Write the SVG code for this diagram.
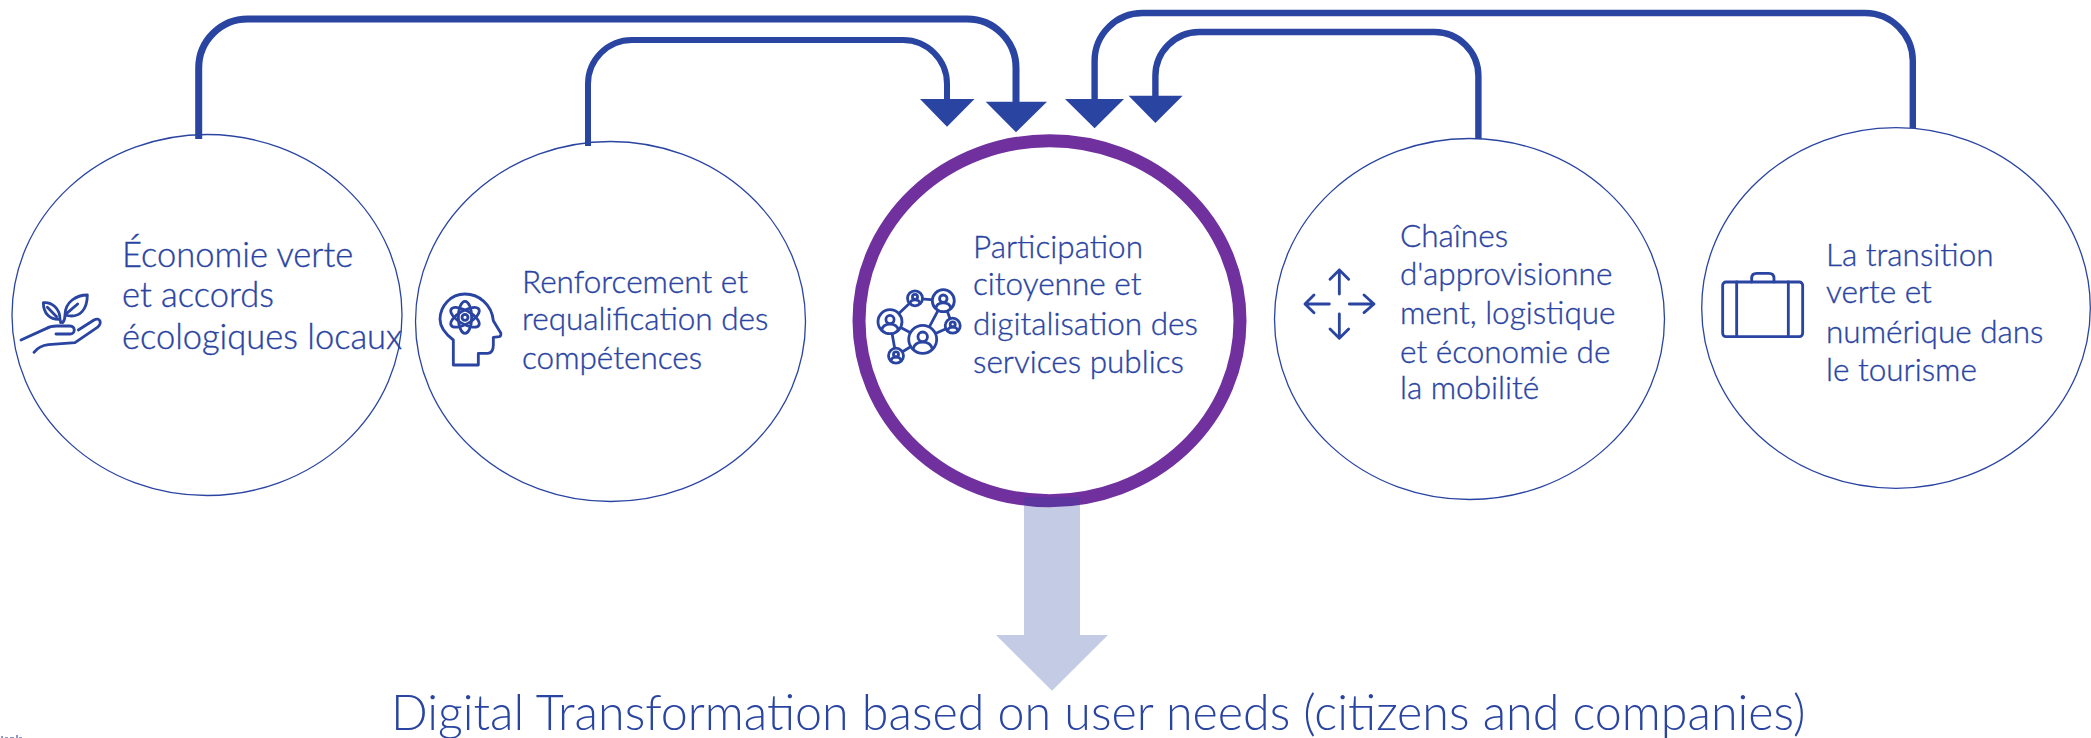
<svg xmlns="http://www.w3.org/2000/svg" width="2091" height="738" viewBox="0 0 2091 738">
<style>
.n{fill:#fff;stroke:#2a44a2;stroke-width:1.3}
.c{fill:#fff;stroke:#70309e;stroke-width:13}
.t{font-family:"Lato","Liberation Sans",sans-serif;font-size:31.5px;fill:#2a44a2;font-weight:300;stroke:#2a44a2;stroke-width:.35}
.w{fill:none;stroke:#2a44a2;stroke-linejoin:round}
.h{fill:#2a44a2}
.i{fill:none;stroke:#2a44a2;stroke-width:8.5;stroke-linecap:round;stroke-linejoin:round}
.k{fill:none;stroke:#2a44a2;stroke-width:2.8;stroke-linecap:round;stroke-linejoin:round}
.b{fill:#fff}
</style>
<defs>
<g id="person"><circle cx="0" cy="0" r="1" class="k" vector-effect="non-scaling-stroke"/><circle cx="0" cy="-.18" r=".34" class="k" vector-effect="non-scaling-stroke"/><path d="M-.68,.68C-.6,.26-.3,.2 0,.2S.6,.26.68,.68" class="k" vector-effect="non-scaling-stroke"/></g>
</defs>
<g id="node-economie">
<ellipse class="n" cx="207" cy="315" rx="195" ry="180.5"/>
<g transform="translate(10,280) scale(.3333)">
<path class="i" d="M33,180L108,146C118,140 128,138 140,138H180C197,138 197,162 180,162H138"/>
<path class="i" d="M205,150L252,120C270,110 278,130 262,142L195,188L115,194C98,196 82,204 72,217"/>
<path class="i" d="M158,128C165,120 165,112 165,105C165,65 200,45 232,45C232,85 212,118 165,105M170,100L203,72"/>
<path class="i" d="M152,128C152,124 151,122 150,118C120,120 100,100 100,68C125,65 150,85 150,118M112,82L140,110"/>
</g>
<text class="t" style="font-size:34.5px"><tspan x="122" y="267">Économie verte</tspan><tspan x="122" y="307">et accords</tspan><tspan x="122" y="349">écologiques locaux</tspan></text>
</g>
<g id="node-competences">
<ellipse class="n" cx="610.5" cy="321.5" rx="195" ry="180"/>
<g transform="translate(430,280) scale(.3333)">
<path class="i" d="M70,180V255H145V220H172C185,220 190,208 190,195V172L208,170C214,168 214,160 210,155L190,122C185,72 145,42 105,42C62,42 30,78 30,118C30,145 50,165 70,180Z"/>
<g transform="translate(105,112)"><ellipse class="i" rx="48" ry="20" transform="rotate(30)"/><ellipse class="i" rx="48" ry="20" transform="rotate(90)"/><ellipse class="i" rx="48" ry="20" transform="rotate(150)"/><circle class="i" r="9"/></g>
</g>
<text class="t"><tspan x="522" y="293">Renforcement et</tspan><tspan x="522" y="330">requalification des</tspan><tspan x="522" y="369">compétences</tspan></text>
</g>
<g id="node-participation">
<ellipse class="c" cx="1049.5" cy="320.7" rx="190.5" ry="180"/>
<g>
<path class="k" d="M915,298.3L943.3,300.7M915,298.3L890,321.7M943.3,300.7L952.7,325.7M943.3,300.7L922.7,339.3M952.7,325.7L922.7,339.3M890,321.7L922.7,339.3M890,321.7L896,355.7M896,355.7L922.7,339.3"/>
<circle class="b" cx="915" cy="298.3" r="7.5"/><circle class="b" cx="943.3" cy="300.7" r="11"/><circle class="b" cx="890" cy="321.7" r="12"/><circle class="b" cx="952.7" cy="325.7" r="7.5"/><circle class="b" cx="922.7" cy="339.3" r="14"/><circle class="b" cx="896" cy="355.7" r="7.5"/>
<use href="#person" transform="translate(915,298.3) scale(7.5)"/>
<use href="#person" transform="translate(943.3,300.7) scale(11)"/>
<use href="#person" transform="translate(890,321.7) scale(12)"/>
<use href="#person" transform="translate(952.7,325.7) scale(7.5)"/>
<use href="#person" transform="translate(922.7,339.3) scale(14)"/>
<use href="#person" transform="translate(896,355.7) scale(7.5)"/>
</g>
<text class="t"><tspan x="973" y="258">Participation</tspan><tspan x="973" y="295">citoyenne et</tspan><tspan x="973" y="335">digitalisation des</tspan><tspan x="973" y="373">services publics</tspan></text>
</g>
<g id="node-chaines">
<ellipse class="n" cx="1469.5" cy="319" rx="195" ry="180.5"/>
<g transform="translate(1290,260) scale(.3333)">
<path class="i" d="M148,30V102M120,58L148,30L176,58M45,132H118M72,105L45,132L72,158M178,132H252M222,105L252,132L222,158M148,162V235M120,207L148,235L176,207"/>
</g>
<text class="t"><tspan x="1400" y="247">Chaînes</tspan><tspan x="1400" y="285">d'approvisionne</tspan><tspan x="1400" y="324">ment, logistique</tspan><tspan x="1400" y="363">et économie de</tspan><tspan x="1400" y="399">la mobilité</tspan></text>
</g>
<g id="node-tourisme">
<ellipse class="n" cx="1896" cy="308" rx="194.3" ry="180.3"/>
<g transform="translate(1710,260) scale(.3333)">
<rect class="i" x="38" y="66" width="240" height="164" rx="10"/>
<path class="i" d="M80,66V230M235,66V230M125,66V55Q125,40 140,40H177Q192,40 192,55V66"/>
</g>
<text class="t"><tspan x="1826" y="266">La transition</tspan><tspan x="1826" y="303">verte et</tspan><tspan x="1826" y="343">numérique dans</tspan><tspan x="1826" y="381">le tourisme</tspan></text>
</g>
<g id="connectors">
<path class="w" stroke-width="7" d="M198.7,139V68A49,49 0 0 1 248,19H967A49,49 0 0 1 1016,68V104"/>
<path class="h" d="M985.7,101.7H1047L1016,132.3Z"/>
<path class="w" stroke-width="6" d="M588,146V84A44,44 0 0 1 632,40H903A44,44 0 0 1 947,84V101"/>
<path class="h" d="M920,99H974.5L947,126.7Z"/>
<path class="w" stroke-width="6.4" d="M1912.8,128V61A48,48 0 0 0 1865,13H1143A48,48 0 0 0 1094.6,61V101"/>
<path class="h" d="M1065,99H1124L1094.6,128.3Z"/>
<path class="w" stroke-width="6.4" d="M1478.4,139V76A44,44 0 0 0 1434.6,32H1199A44,44 0 0 0 1155.4,76V98"/>
<path class="h" d="M1128.6,95.7H1182.6L1155.4,123Z"/>
<path d="M1024,497H1080V635H1108L1052,690.7L996,635H1024Z" fill="#2a44a2" fill-opacity=".28"/>
</g>
<text id="caption" x="391" y="730" font-family="Lato,'Liberation Sans',sans-serif" font-size="48.4" font-weight="300" fill="#2a44a2">Digital Transformation based on user needs (citizens and companies)</text>
<g id="fragment" fill="#8a97c8"><rect x="1" y="736" width="2" height="2"/><rect x="5" y="737" width="3" height="1"/><rect x="10" y="737" width="4" height="1"/><rect x="16" y="735" width="2" height="3"/><rect x="19" y="737" width="3" height="1"/></g>
</svg>
